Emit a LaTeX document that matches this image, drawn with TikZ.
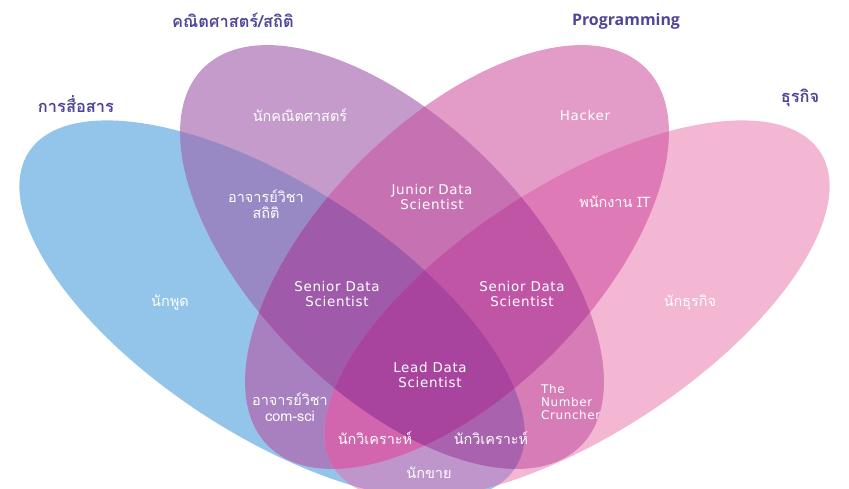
\documentclass[tikz,border=0pt]{standalone}
\usepackage{fontspec}
\setmainfont{DejaVu Sans}[LetterSpace=5]
\newfontfamily\headfnt{Open Sans}
\newfontfamily\thaifnt[Script=Thai]{Loma}
\definecolor{cA}{HTML}{93C5EB}
\definecolor{cB}{HTML}{C49BCB}
\definecolor{cC}{HTML}{E39CC8}
\definecolor{cD}{HTML}{F3B7D3}
\definecolor{cAB}{HTML}{9889C5}
\definecolor{cAC}{HTML}{A880C0}
\definecolor{cAD}{HTML}{BE96CC}
\definecolor{cBC}{HTML}{C672B2}
\definecolor{cBD}{HTML}{D67CB6}
\definecolor{cCD}{HTML}{DE7AB6}
\definecolor{cABC}{HTML}{A05AAA}
\definecolor{cBCD}{HTML}{C055A5}
\definecolor{cABD}{HTML}{A862AE}
\definecolor{cACD}{HTML}{D266AE}
\definecolor{cABCD}{HTML}{A8449E}
\definecolor{headC}{HTML}{4F4696}
\newcommand\vennclipA{\clip (272,310) circle [x radius=290bp, y radius=125bp, rotate=-33];}
\newcommand\vennclipB{\clip (392,257) circle [x radius=267bp, y radius=136bp, rotate=-45];}
\newcommand\vennclipC{\clip (457,257) circle [x radius=267bp, y radius=136bp, rotate=45];}
\newcommand\vennclipD{\clip (577,310) circle [x radius=290bp, y radius=125bp, rotate=33];}
\newcommand\vennfill[1]{\fill[#1] (0,0) rectangle (849,489);}
\begin{document}
\begin{tikzpicture}[x=1bp,y=-1bp,
  lab/.style={text=white, align=center, inner sep=0pt, font=\fontsize{13.5}{15.5}\selectfont},
  thl/.style={text=white, align=center, inner sep=0pt, font=\thaifnt\fontsize{14.5}{16}\selectfont},
  head/.style={text=headC, inner sep=0pt, font=\headfnt\bfseries\fontsize{16}{18}\selectfont},
  thhead/.style={text=headC, inner sep=0pt, font=\thaifnt\bfseries\fontsize{16.5}{18}\selectfont}]
\useasboundingbox (0,0) rectangle (849,489);
% singles
\begin{scope}\vennclipA\vennfill{cA}\end{scope}
\begin{scope}\vennclipB\vennfill{cB}\end{scope}
\begin{scope}\vennclipC\vennfill{cC}\end{scope}
\begin{scope}\vennclipD\vennfill{cD}\end{scope}
% pairs
\begin{scope}\vennclipA\vennclipB\vennfill{cAB}\end{scope}
\begin{scope}\vennclipA\vennclipC\vennfill{cAC}\end{scope}
\begin{scope}\vennclipA\vennclipD\vennfill{cAD}\end{scope}
\begin{scope}\vennclipB\vennclipC\vennfill{cBC}\end{scope}
\begin{scope}\vennclipB\vennclipD\vennfill{cBD}\end{scope}
\begin{scope}\vennclipC\vennclipD\vennfill{cCD}\end{scope}
% triples
\begin{scope}\vennclipA\vennclipB\vennclipC\vennfill{cABC}\end{scope}
\begin{scope}\vennclipA\vennclipB\vennclipD\vennfill{cABD}\end{scope}
\begin{scope}\vennclipA\vennclipC\vennclipD\vennfill{cACD}\end{scope}
\begin{scope}\vennclipB\vennclipC\vennclipD\vennfill{cBCD}\end{scope}
% all four
\begin{scope}\vennclipA\vennclipB\vennclipC\vennclipD\vennfill{cABCD}\end{scope}

% headings
\node[thhead] (hMath) at (233,20) {คณิตศาสตร์/สถิติ};
\node[thhead] (hComm) at (76,104) {การสื่อสาร};
\node[head] (hProg) at (626,21) {Programming};
\node[thhead] (hBiz) at (800,98) {ธุรกิจ};

% region labels
\node[thl] (lMath) at (300,115) {นักคณิตศาสตร์};
\node[lab] (lHack) at (585,115) {Hacker};
\node[thl] (lProfStat) at (266,204) {อาจารย์วิชา\\สถิติ};
\node[lab] (lJunior) at (432,197) {Junior Data\\Scientist};
\node[thl] (lIT) at (615,202) {พนักงาน IT};
\node[thl] (lTalk) at (170,303) {นักพูด};
\node[lab] (lSenL) at (337,294) {Senior Data\\Scientist};
\node[lab] (lSenR) at (522,294) {Senior Data\\Scientist};
\node[thl] (lBiz) at (690,303) {นักธุรกิจ};
\node[lab] (lLead) at (430,375) {Lead Data\\Scientist};
\node[thl] (lProfCS) at (290,407) {อาจารย์วิชา\\com-sci};
\node[lab, align=left, anchor=west, font=\fontsize{12}{13.5}\selectfont] (lNum) at (541,402) {The\\Number\\Cruncher};
\node[thl] (lAnaL) at (375,438) {นักวิเคราะห์};
\node[thl] (lAnaR) at (491,438) {นักวิเคราะห์};
\node[thl] (lSale) at (429,473) {นักขาย};
\end{tikzpicture}
\end{document}
